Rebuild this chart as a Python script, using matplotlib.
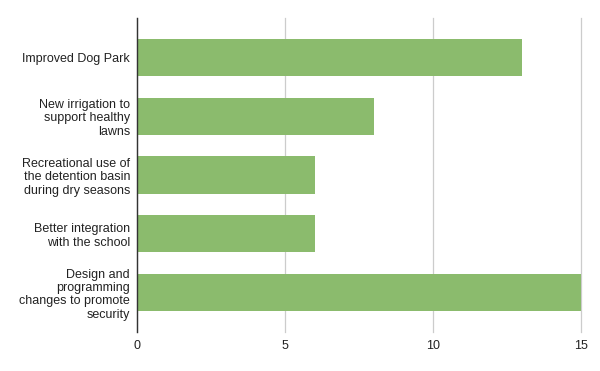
import matplotlib

matplotlib.use("Agg")
import matplotlib.pyplot as plt

categories = [
    "Improved Dog Park",
    "New irrigation to\nsupport healthy\nlawns",
    "Recreational use of\nthe detention basin\nduring dry seasons",
    "Better integration\nwith the school",
    "Design and\nprogramming\nchanges to promote\nsecurity",
]
values = [13, 8, 6, 6, 15]
x_ticks = [0, 5, 10, 15]

plt.rcParams["font.family"] = ["Liberation Sans", "DejaVu Sans"]

fig = plt.figure(figsize=(6, 3.71), dpi=100)
ax = fig.add_axes([0.2283, 0.105, 0.7408, 0.8465])

pos = list(range(len(categories)))
ax.barh(pos, values, height=0.63, color="#8bbb6d", zorder=3)

ax.set_xlim(0, 15)
ax.set_ylim(4.67, -0.67)
ax.set_xticks(x_ticks)
ax.set_yticks(pos)
ax.set_yticklabels(categories, fontsize=9, color="#222222", linespacing=1.15)
ax.tick_params(axis="x", labelsize=9, colors="#222222", length=0, pad=6)
ax.tick_params(axis="y", length=0, pad=5)
ax.grid(axis="x", color="#cccccc", linewidth=0.9, zorder=0)
for gl in ax.get_xgridlines():
    gl.set_clip_on(False)

for side in ("top", "right", "bottom"):
    ax.spines[side].set_visible(False)
ax.spines["left"].set_color("#333333")
ax.spines["left"].set_linewidth(1.0)
ax.spines["left"].set_zorder(4)

fig.savefig("out.png", dpi=100)
plt.close(fig)
